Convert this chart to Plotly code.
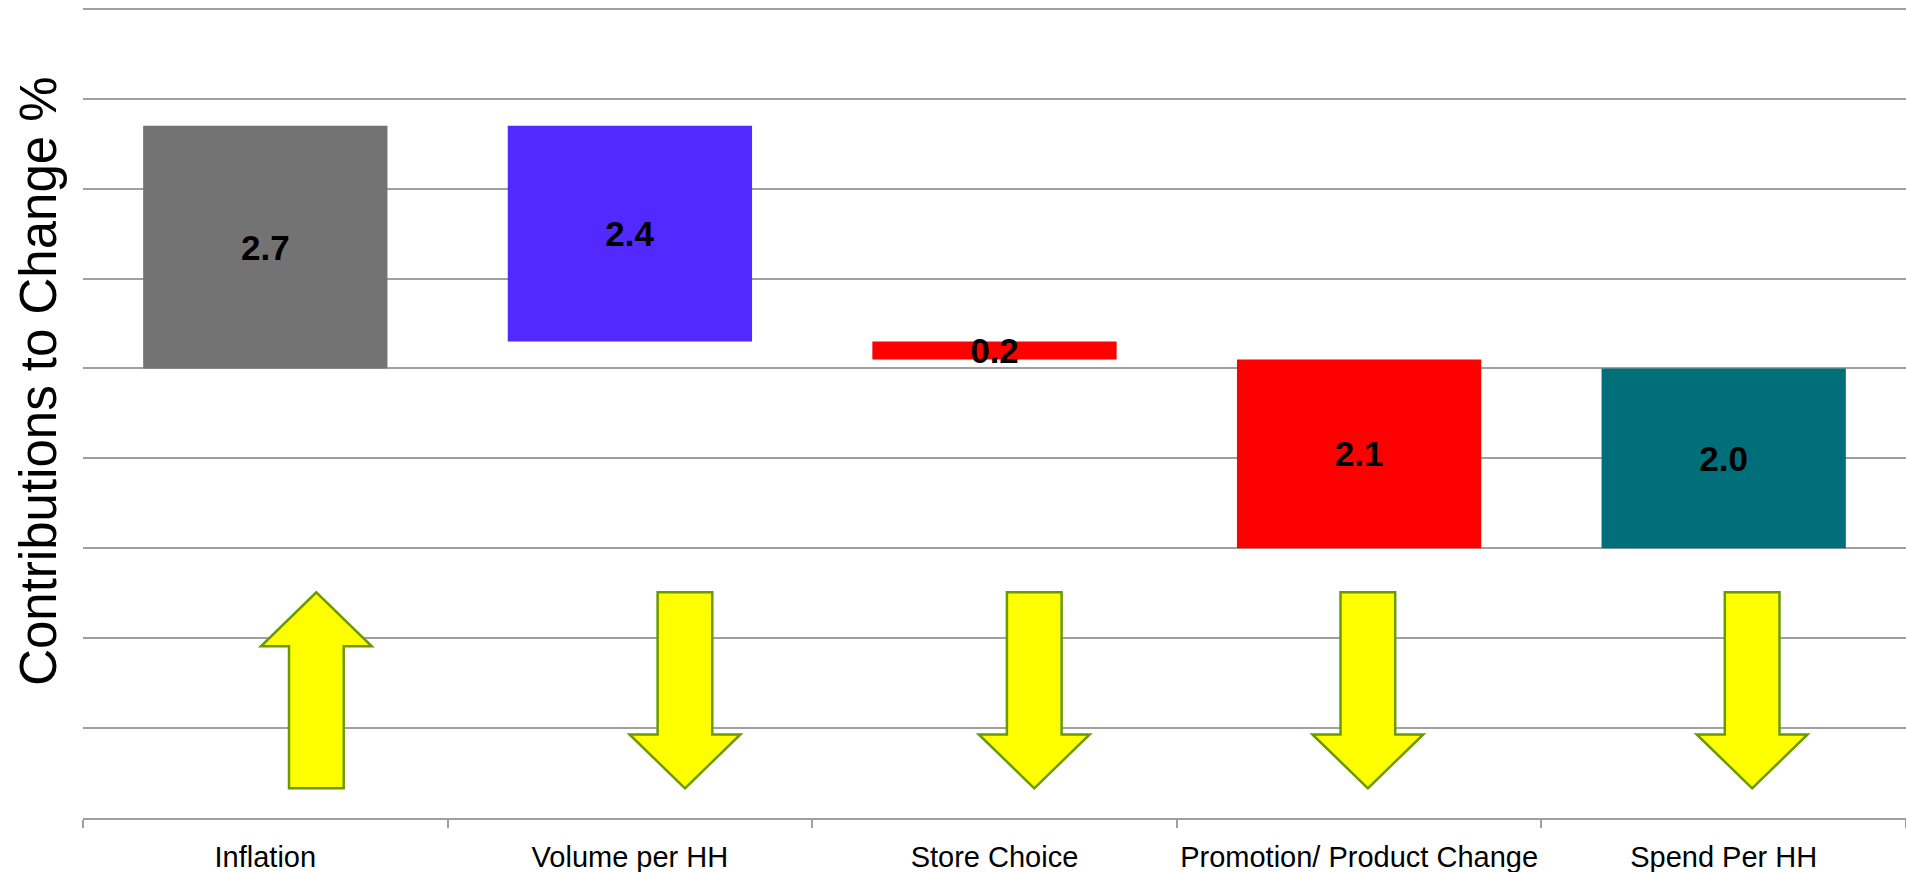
import plotly.graph_objects as go

# Contributions to change (percentage points)
categories = ["Inflation", "Volume per HH", "Store Choice",
              "Promotion/ Product Change", "Spend Per HH"]
changes = [2.7, -2.4, -0.2, -2.1]   # step contributions
total = -2.0                          # resulting spend per household change
bar_colors = ["#737373", "#5229FE", "#FF0000", "#FF0000", "#006F7A"]

# Build waterfall bases: each step starts where the previous one ended
values = changes + [total]
bases = []
running = 0.0
for v in changes:
    bases.append(running)
    running += v
bases.append(0.0)

fig = go.Figure()
fig.add_trace(go.Bar(
    x=categories,
    y=values,
    base=bases,
    width=0.67,
    marker=dict(color=bar_colors, line=dict(width=0)),
    text=[f"{abs(v):.1f}" for v in values],
    textposition="inside",
    insidetextanchor="middle",
    textangle=0,
    # keep labels at full size even when a bar is thinner than its text
    constraintext="none",
    textfont=dict(family="Liberation Sans, Arial, sans-serif", size=35,
                  color="black", weight="bold"),
    cliponaxis=False,
    hoverinfo="skip",
))

# Direction arrows under each category (up for positive, down for negative)
arrow_offsets = [0.14, 0.151, 0.109, 0.024, 0.078]
y_top, y_bot, head_len = -2.49, -4.67, 0.6
shaft_hw, head_hw = 0.075, 0.152
shapes = []
for i, v in enumerate(values):
    cx = i + arrow_offsets[i]
    if v > 0:
        pts = [(cx, y_top), (cx + head_hw, y_top - head_len),
               (cx + shaft_hw, y_top - head_len), (cx + shaft_hw, y_bot),
               (cx - shaft_hw, y_bot), (cx - shaft_hw, y_top - head_len),
               (cx - head_hw, y_top - head_len)]
    else:
        pts = [(cx, y_bot), (cx + head_hw, y_bot + head_len),
               (cx + shaft_hw, y_bot + head_len), (cx + shaft_hw, y_top),
               (cx - shaft_hw, y_top), (cx - shaft_hw, y_bot + head_len),
               (cx - head_hw, y_bot + head_len)]
    path = "M " + " L ".join(f"{x:.4f},{y:.4f}" for x, y in pts) + " Z"
    shapes.append(dict(type="path", xref="x", yref="y", path=path,
                       fillcolor="#FFFF00",
                       line=dict(color="#6A9A00", width=2.5)))

fig.update_layout(
    width=1906, height=872,
    margin=dict(l=83, r=0, t=7, b=54, autoexpand=False),
    paper_bgcolor="white", plot_bgcolor="white",
    showlegend=False,
    barmode="overlay",
    uniformtext=dict(mode=False),
    shapes=shapes,
    font=dict(family="Liberation Sans, Arial, sans-serif", color="black"),
    annotations=[dict(
        text="Contributions to Change %",
        xref="paper", yref="paper",
        x=-44 / 1823, y=0.539,
        xanchor="center", yanchor="middle",
        textangle=-90, showarrow=False,
        font=dict(family="Liberation Sans, Arial, sans-serif", size=51,
                  color="black"),
    )],
)

fig.update_xaxes(
    type="category",
    showline=True, linecolor="#A0A0A0", linewidth=1.5,
    ticks="outside", tickson="boundaries", ticklen=8,
    tickcolor="#A0A0A0", tickwidth=1.5,
    showgrid=False,
    tickangle=0, automargin=False,
    tickfont=dict(size=29, color="black"),
    ticklabelstandoff=12,
    range=[-0.5, 4.5],
)
fig.update_yaxes(
    range=[-5, 4.02],
    dtick=1, tick0=0,
    showgrid=True, gridcolor="#A0A0A0", gridwidth=1.5,
    zeroline=False,
    showticklabels=False, ticks="",
    showline=False,
)
fig.write_html("out.html")
